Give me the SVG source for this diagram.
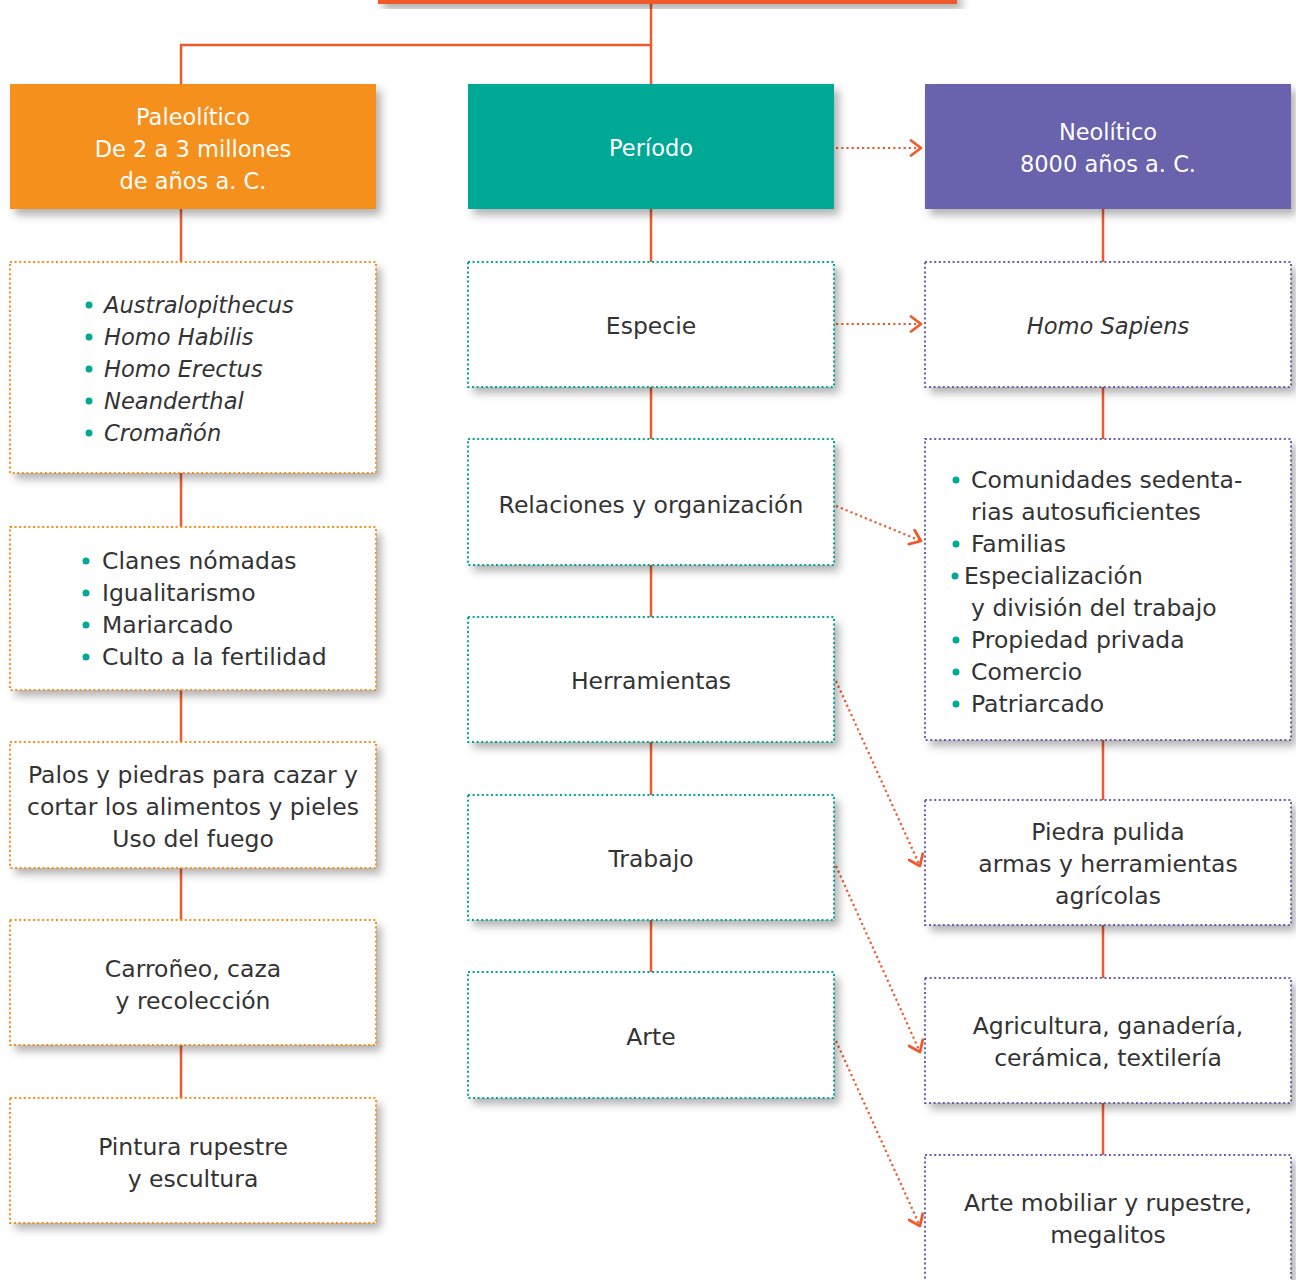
<svg xmlns="http://www.w3.org/2000/svg" width="1296" height="1280" viewBox="0 0 1296 1280">
<defs>
<filter id="sh" x="-10%" y="-10%" width="130%" height="140%">
<feDropShadow dx="5" dy="6" stdDeviation="4" flood-color="#000" flood-opacity="0.3"/>
</filter>
<marker id="chev" viewBox="0 0 14 18" refX="12" refY="9" markerWidth="14" markerHeight="18" markerUnits="userSpaceOnUse" orient="auto">
<path d="M2,1.5 L12,9 L2,16.5" fill="none" stroke="#EE5A2C" stroke-width="2.8" stroke-linecap="round" stroke-linejoin="round"/>
</marker>
<style>
.t{font-family:"DejaVu Sans","Liberation Sans",sans-serif;font-size:23.5px;fill:#333}
.w{fill:#fff;font-size:22.5px}
.i{font-style:italic;font-size:22.6px}
.c{text-anchor:middle}
.bg{fill:#fff;filter:url(#sh)}
.bo{fill:none;stroke:#F6901E;stroke-width:2;stroke-dasharray:2 2.6}
.bt{fill:none;stroke:#00A896;stroke-width:2;stroke-dasharray:2 2.6}
.bp{fill:none;stroke:#6962AD;stroke-width:2;stroke-dasharray:2 2.6}
.ln{fill:none;stroke:#EE5A2C;stroke-width:2.5}
.ar{fill:none;stroke:#EE5A2C;stroke-width:2.2;stroke-dasharray:2.2 3;marker-end:url(#chev)}
.dot{fill:#00A896}
</style>
</defs>
<rect width="1296" height="1280" fill="#fff"/>
<g id="connectors">
<path class="ln" d="M651,4 V84 M651,45 H181 V84"/>
<path class="ln" d="M181,209 V262 M181,473 V527 M181,690 V742 M181,868 V920 M181,1045 V1098"/>
<path class="ln" d="M651,209 V262 M651,387 V439 M651,565 V617 M651,742 V795 M651,920 V972"/>
<path class="ln" d="M1103,209 V262 M1103,387 V439 M1103,740 V800 M1103,925 V978 M1103,1103 V1155"/>
<path class="ar" d="M836,148 H921"/>
<path class="ar" d="M836,324 H921"/>
<path class="ar" d="M836,506 L921,541"/>
<path class="ar" d="M836,681 L920,866"/>
<path class="ar" d="M836,866 L920,1052"/>
<path class="ar" d="M836,1041 L920,1226"/>
</g>
<g id="top"><rect x="378" y="-10" width="579" height="14" fill="#EE5A2C" filter="url(#sh)"/></g>
<g id="paleolitico">
<rect x="10" y="84" width="366" height="125" fill="#F6901E" filter="url(#sh)"/>
<text class="t w c" x="193" y="125">Paleolítico</text>
<text class="t w c" x="193" y="157">De 2 a 3 millones</text>
<text class="t w c" x="193" y="189">de años a. C.</text>
</g>
<g id="periodo">
<rect x="468" y="84" width="366" height="125" fill="#00A896" filter="url(#sh)"/>
<text class="t w c" x="651" y="156">Período</text>
</g>
<g id="neolitico">
<rect x="925" y="84" width="366" height="125" fill="#6962AD" filter="url(#sh)"/>
<text class="t w c" x="1108" y="140">Neolítico</text>
<text class="t w c" x="1108" y="172">8000 años a. C.</text>
</g>
<g id="p-especie">
<rect class="bg" x="10" y="262" width="366" height="211"/>
<rect class="bo" x="10" y="262" width="366" height="211"/>
<circle class="dot" cx="89" cy="305" r="3.5"/><circle class="dot" cx="89" cy="337" r="3.5"/><circle class="dot" cx="89" cy="369" r="3.5"/><circle class="dot" cx="89" cy="401" r="3.5"/><circle class="dot" cx="89" cy="433" r="3.5"/>
<text class="t i" x="104" y="313">Australopithecus</text>
<text class="t i" x="104" y="345">Homo Habilis</text>
<text class="t i" x="104" y="377">Homo Erectus</text>
<text class="t i" x="104" y="409">Neanderthal</text>
<text class="t i" x="104" y="441">Cromañón</text>
</g>
<g id="p-relaciones">
<rect class="bg" x="10" y="527" width="366" height="163"/>
<rect class="bo" x="10" y="527" width="366" height="163"/>
<circle class="dot" cx="86" cy="561" r="3.5"/><circle class="dot" cx="86" cy="593" r="3.5"/><circle class="dot" cx="86" cy="625" r="3.5"/><circle class="dot" cx="86" cy="657" r="3.5"/>
<text class="t" x="102" y="569">Clanes nómadas</text>
<text class="t" x="102" y="601">Igualitarismo</text>
<text class="t" x="102" y="633">Mariarcado</text>
<text class="t" x="102" y="665">Culto a la fertilidad</text>
</g>
<g id="p-herramientas">
<rect class="bg" x="10" y="742" width="366" height="126"/>
<rect class="bo" x="10" y="742" width="366" height="126"/>
<text class="t c" x="193" y="783">Palos y piedras para cazar y</text>
<text class="t c" x="193" y="815">cortar los alimentos y pieles</text>
<text class="t c" x="193" y="847">Uso del fuego</text>
</g>
<g id="p-trabajo">
<rect class="bg" x="10" y="920" width="366" height="125"/>
<rect class="bo" x="10" y="920" width="366" height="125"/>
<text class="t c" x="193" y="977">Carroñeo, caza</text>
<text class="t c" x="193" y="1009">y recolección</text>
</g>
<g id="p-arte">
<rect class="bg" x="10" y="1098" width="366" height="125"/>
<rect class="bo" x="10" y="1098" width="366" height="125"/>
<text class="t c" x="193" y="1155">Pintura rupestre</text>
<text class="t c" x="193" y="1187">y escultura</text>
</g>
<g id="especie">
<rect class="bg" x="468" y="262" width="366" height="125"/>
<rect class="bt" x="468" y="262" width="366" height="125"/>
<text class="t c" x="651" y="334">Especie</text>
</g>
<g id="relaciones">
<rect class="bg" x="468" y="439" width="366" height="126"/>
<rect class="bt" x="468" y="439" width="366" height="126"/>
<text class="t c" x="651" y="513">Relaciones y organización</text>
</g>
<g id="herramientas">
<rect class="bg" x="468" y="617" width="366" height="125"/>
<rect class="bt" x="468" y="617" width="366" height="125"/>
<text class="t c" x="651" y="689">Herramientas</text>
</g>
<g id="trabajo">
<rect class="bg" x="468" y="795" width="366" height="125"/>
<rect class="bt" x="468" y="795" width="366" height="125"/>
<text class="t c" x="651" y="867">Trabajo</text>
</g>
<g id="arte">
<rect class="bg" x="468" y="972" width="366" height="126"/>
<rect class="bt" x="468" y="972" width="366" height="126"/>
<text class="t c" x="651" y="1045">Arte</text>
</g>
<g id="n-especie">
<rect class="bg" x="925" y="262" width="366" height="125"/>
<rect class="bp" x="925" y="262" width="366" height="125"/>
<text class="t i c" x="1108" y="334">Homo Sapiens</text>
</g>
<g id="n-relaciones">
<rect class="bg" x="925" y="439" width="366" height="301"/>
<rect class="bp" x="925" y="439" width="366" height="301"/>
<circle class="dot" cx="956" cy="480" r="3.5"/><circle class="dot" cx="956" cy="544" r="3.5"/><circle class="dot" cx="955" cy="576" r="3.5"/><circle class="dot" cx="956" cy="640" r="3.5"/><circle class="dot" cx="956" cy="672" r="3.5"/><circle class="dot" cx="956" cy="704" r="3.5"/>
<text class="t" x="971" y="488">Comunidades sedenta-</text>
<text class="t" x="971" y="520">rias autosuficientes</text>
<text class="t" x="971" y="552">Familias</text>
<text class="t" x="964" y="584">Especialización</text>
<text class="t" x="971" y="616">y división del trabajo</text>
<text class="t" x="971" y="648">Propiedad privada</text>
<text class="t" x="971" y="680">Comercio</text>
<text class="t" x="971" y="712">Patriarcado</text>
</g>
<g id="n-herramientas">
<rect class="bg" x="925" y="800" width="366" height="125"/>
<rect class="bp" x="925" y="800" width="366" height="125"/>
<text class="t c" x="1108" y="840">Piedra pulida</text>
<text class="t c" x="1108" y="872">armas y herramientas</text>
<text class="t c" x="1108" y="904">agrícolas</text>
</g>
<g id="n-trabajo">
<rect class="bg" x="925" y="978" width="366" height="125"/>
<rect class="bp" x="925" y="978" width="366" height="125"/>
<text class="t c" x="1108" y="1034">Agricultura, ganadería,</text>
<text class="t c" x="1108" y="1066">cerámica, textilería</text>
</g>
<g id="n-arte">
<rect class="bg" x="925" y="1155" width="366" height="135"/>
<rect class="bp" x="925" y="1155" width="366" height="135"/>
<text class="t c" x="1108" y="1211">Arte mobiliar y rupestre,</text>
<text class="t c" x="1108" y="1243">megalitos</text>
</g>
</svg>
